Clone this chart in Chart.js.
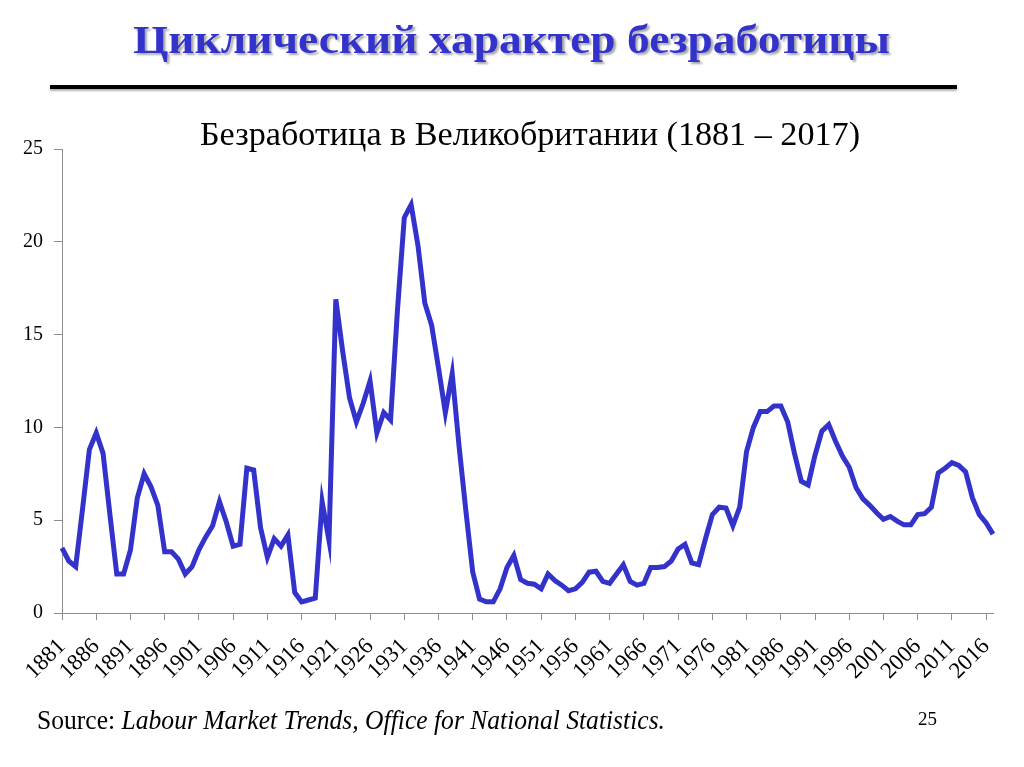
<!DOCTYPE html>
<html>
<head>
<meta charset="utf-8">
<script src="https://cdn.jsdelivr.net/npm/chart.js@4"></script>
<style>
  html, body { margin: 0; padding: 0; background: #fff; }
  #wrap { position: relative; width: 1024px; height: 767px; overflow: hidden; }
  #chart { position: absolute; left: 0; top: 0; }
  .txt { position: absolute; white-space: nowrap; line-height: 1; font-family: 'Liberation Serif', 'Times New Roman', serif; transform-origin: left top; }
  #title { font-weight: bold; font-size: 39px; color: #3333cc; text-shadow: 2px 2px 2px rgba(0,0,0,0.35); top: 20px; }
  #rule { position: absolute; left: 50px; top: 85px; width: 907px; height: 4px; background: #000; box-shadow: 0 2px 2px rgba(0,0,0,0.3); }
  #subtitle { font-size: 33px; color: #000; top: 118px; }
  #source { font-size: 27px; color: #000; top: 707px; left: 37px; }
  #page { font-size: 19px; color: #000; top: 709px; left: 918px; }
</style>
</head>
<body>
<div id="wrap">
  <canvas id="chart" width="1024" height="767"></canvas>
  <div id="title" class="txt">Циклический характер безработицы</div>
  <div id="rule"></div>
  <div id="subtitle" class="txt">Безработица в Великобритании (1881 – 2017)</div>
  <div id="source" class="txt">Source: <i>Labour Market Trends, Office for National Statistics.</i></div>
  <div id="page" class="txt">25</div>
</div>
<script>
// годы 1881 - 2017
const firstYear = 1881;
const lastYear = 2017;
const years = [];
for (let y = firstYear; y <= lastYear; y++) years.push(String(y));

// подписи оси X (каждые 5 лет)
const tickYears = ['1881','1886','1891','1896','1901','1906','1911','1916','1921','1926','1931','1936','1941','1946','1951','1956','1961','1966','1971','1976','1981','1986','1991','1996','2001','2006','2011','2016'];

// безработица, %
const unemployment = [
    3.5, 2.8, 2.5, 5.6, 8.8, 9.7, 8.6, 5.3, 2.1, 2.1,      // 1881-1890
    3.4, 6.2, 7.5, 6.8, 5.8, 3.3, 3.3, 2.9, 2.1, 2.5,      // 1891-1900
    3.4, 4.1, 4.7, 6.0, 4.9, 3.6, 3.7, 7.8, 7.7, 4.6,      // 1901-1910
    3.0, 4.0, 3.6, 4.2, 1.1, 0.6, 0.7, 0.8, 6.0, 3.9,      // 1911-1920
    16.9, 14.1, 11.6, 10.3, 11.3, 12.5, 9.7, 10.8, 10.4, 16.3, // 1921-1930
    21.3, 22.0, 19.8, 16.7, 15.5, 13.2, 10.8, 12.9, 9.0, 5.5,  // 1931-1940
    2.2, 0.75, 0.6, 0.6, 1.3, 2.45, 3.1, 1.8, 1.6, 1.55,   // 1941-1950
    1.3, 2.1, 1.75, 1.5, 1.2, 1.3, 1.65, 2.2, 2.25, 1.7,   // 1951-1960
    1.6, 2.1, 2.6, 1.7, 1.5, 1.6, 2.45, 2.45, 2.5, 2.8,    // 1961-1970
    3.45, 3.7, 2.7, 2.6, 4.0, 5.3, 5.7, 5.65, 4.7, 5.7,    // 1971-1980
    8.7, 10.0, 10.85, 10.85, 11.15, 11.15, 10.3, 8.6, 7.1, 6.9, // 1981-1990
    8.5, 9.8, 10.15, 9.25, 8.45, 7.85, 6.75, 6.15, 5.8, 5.4,   // 1991-2000
    5.05, 5.2, 4.95, 4.75, 4.75, 5.3, 5.35, 5.7, 7.55, 7.8,    // 2001-2010
    8.1, 7.95, 7.6, 6.2, 5.3, 4.85, 4.25                       // 2011-2017
];

const yTicks = [0, 5, 10, 15, 20, 25];

const axisColor = '#8c8c8c';
const lineColor = '#3333cc';
const serif = "'Liberation Serif', 'Times New Roman', serif";

new Chart(document.getElementById('chart'), {
    type: 'line',
    data: {
        labels: years,
        datasets: [{
            data: unemployment,
            borderColor: lineColor,
            borderWidth: 5,
            pointRadius: 0,
            tension: 0,
            fill: false
        }]
    },
    options: {
        responsive: false,
        animation: false,
        layout: { padding: { left: 0, right: 31, top: 149, bottom: 54 } },
        plugins: { legend: { display: false }, tooltip: { enabled: false } },
        scales: {
            x: {
                type: 'category',
                offset: false,
                grid: {
                    drawOnChartArea: false,
                    tickLength: 7,
                    color: ctx => (tickYears.includes(years[ctx.index]) ? axisColor : 'rgba(0,0,0,0)')
                },
                border: { color: axisColor, width: 1 },
                ticks: {
                    autoSkip: false,
                    maxRotation: 45,
                    minRotation: 45,
                    color: '#000',
                    font: { family: serif, size: 23 },
                    padding: 13,
                    callback: function(value, index) {
                        const lbl = years[index];
                        return tickYears.includes(lbl) ? lbl : '';
                    }
                },
                afterFit: scale => {
                    scale.height = 100;
                    scale.paddingRight = 0;
                    scale.paddingLeft = 0;
                }
            },
            y: {
                min: 0,
                max: 25,
                grid: { drawOnChartArea: false, tickLength: 8, color: axisColor },
                border: { color: axisColor, width: 1 },
                ticks: {
                    stepSize: 5,
                    color: '#000',
                    font: { family: serif, size: 20 },
                    padding: 11,
                    callback: v => (yTicks.includes(v) ? v : '')
                },
                afterFit: scale => { scale.width = 62; }
            }
        }
    }
});

// подгонка ширины текстов под макет
function fitText(id, width, center) {
    const el = document.getElementById(id);
    const w = el.getBoundingClientRect().width;
    el.style.transform = 'scaleX(' + (width / w) + ')';
    if (center !== undefined) el.style.left = (center - width / 2) + 'px';
}
fitText('title', 757, 511);
fitText('subtitle', 660, 530);
fitText('source', 628);
</script>
</body>
</html>
